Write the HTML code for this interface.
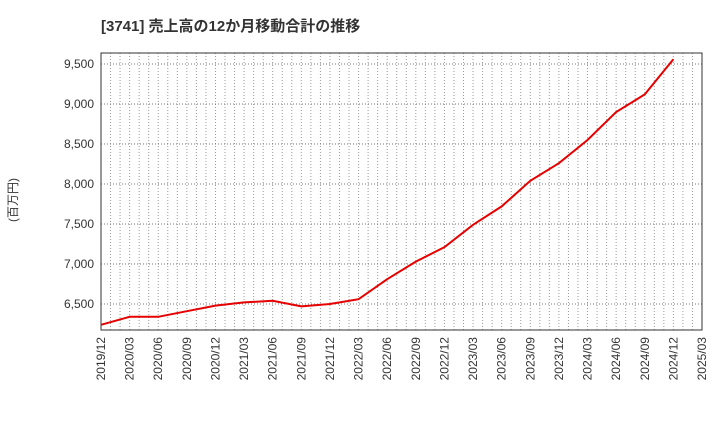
<!DOCTYPE html>
<html><head><meta charset="utf-8"><style>
body{margin:0;background:#fff;font-family:"Liberation Sans","Noto Sans CJK JP",sans-serif;}
</style></head><body>
<svg id="c" width="720" height="440" xmlns="http://www.w3.org/2000/svg">
<text x="101" y="31" font-size="15" font-weight="bold" fill="#333">[3741]  売上高の12か月移動合計の推移</text>
<text transform="translate(17,200) rotate(-90)" font-size="12" fill="#333" text-anchor="middle">(百万円)</text>
<g id="grid"></g><g id="axes"></g><g id="series"></g>
</svg>
<script>
const categories=["2019/12","2020/03","2020/06","2020/09","2020/12","2021/03","2021/06","2021/09","2021/12","2022/03","2022/06","2022/09","2022/12","2023/03","2023/06","2023/09","2023/12","2024/03","2024/06","2024/09","2024/12"];
const xTickLabels=["2019/12","2020/03","2020/06","2020/09","2020/12","2021/03","2021/06","2021/09","2021/12","2022/03","2022/06","2022/09","2022/12","2023/03","2023/06","2023/09","2023/12","2024/03","2024/06","2024/09","2024/12","2025/03"];
const salesValues=[6240,6340,6340,6410,6480,6520,6540,6470,6500,6560,6810,7030,7210,7490,7720,8040,8260,8550,8900,9120,9560];
const yTicks=[6500,7000,7500,8000,8500,9000,9500];
const L=101,R=702,T=53,B=330,yMin=6175,yMax=9637.5;
const NS="http://www.w3.org/2000/svg";
const step=(R-L)/(xTickLabels.length-1);
function x(i){return L+i*step;}
function y(v){return B-(v-yMin)/(yMax-yMin)*(B-T);}
function mk(t,a,p){const e=document.createElementNS(NS,t);for(const k in a)e.setAttribute(k,a[k]);p.appendChild(e);return e;}
const g=document.getElementById('grid'),ax=document.getElementById('axes'),s=document.getElementById('series');
for(let m=1;m<(xTickLabels.length-1)*3;m++){const xx=L+m*step/3;
const ln=mk('line',{x1:xx,x2:xx,y1:T,y2:B,stroke:'#999','stroke-dasharray':'1,2','stroke-width':1},g);

}
yTicks.forEach(v=>{const ln=mk('line',{x1:L,x2:R,y1:y(v),y2:y(v),stroke:'#777','stroke-dasharray':'1,2','stroke-width':1},g);


const t=mk('text',{x:L-7,y:y(v)+4,'font-size':12,fill:'#333','text-anchor':'end'},ax);t.textContent=v.toLocaleString('en-US');

});
xTickLabels.forEach((lb,i)=>{const t=mk('text',{transform:`translate(${x(i)+4},337) rotate(-90)`,'font-size':12,fill:'#333','text-anchor':'end'},ax);t.textContent=lb;

});
const fr=mk('rect',{x:L,y:T,width:R-L,height:B-T,fill:'none',stroke:'#333','stroke-width':1},ax);


const pl=mk('polyline',{points:salesValues.map((v,i)=>x(i)+','+y(v)).join(' '),fill:'none',stroke:'#e60000','stroke-width':2},s);


</script>
</body></html>
